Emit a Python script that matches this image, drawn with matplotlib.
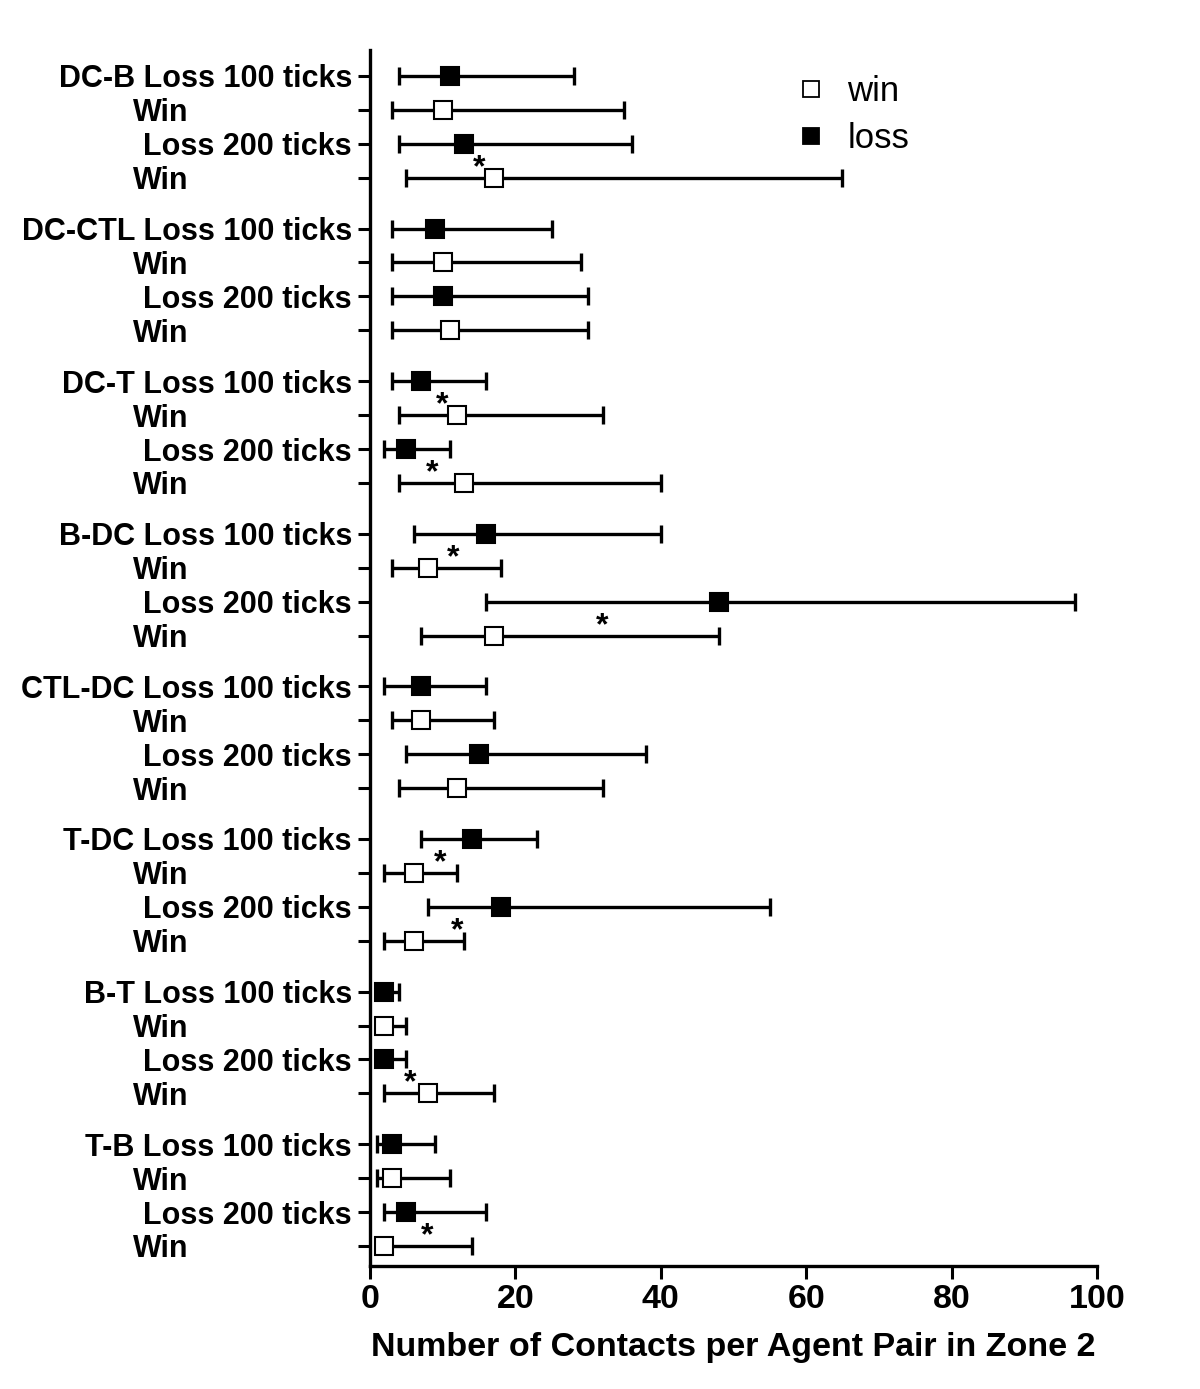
import matplotlib.pyplot as plt
from matplotlib.lines import Line2D
import matplotlib.transforms as mtransforms

plt.rcParams['font.family'] = ['Liberation Sans', 'DejaVu Sans']

groups = ["DC-B", "DC-CTL", "DC-T", "B-DC", "CTL-DC", "T-DC", "B-T", "T-B"]
row_names = ["Loss 100 ticks", "Win", "Loss 200 ticks", "Win"]
row_kind = ["loss", "win", "loss", "win"]

means = [[11, 10, 13, 17], [9, 10, 10, 11], [7, 12, 5, 13], [16, 8, 48, 17],
         [7, 7, 15, 12], [14, 6, 18, 6], [2, 2, 2, 8], [3, 3, 5, 2]]
lows = [[4, 3, 4, 5], [3, 3, 3, 3], [3, 4, 2, 4], [6, 3, 16, 7],
        [2, 3, 5, 4], [7, 2, 8, 2], [1, 1, 1, 2], [1, 1, 2, 1]]
highs = [[28, 35, 36, 65], [25, 29, 30, 30], [16, 32, 11, 40], [40, 18, 97, 48],
         [16, 17, 38, 32], [23, 12, 55, 13], [4, 5, 5, 17], [9, 11, 16, 14]]

# significance stars: (group, row above which star sits, x)
star_group = [0, 2, 2, 3, 3, 5, 5, 6, 7]
star_row = [3, 1, 3, 1, 3, 1, 3, 3, 3]
star_x = [15, 10, 8.5, 11.5, 32, 9.6, 12, 5.5, 7.8]

fig = plt.figure(figsize=(12, 13.89), dpi=100)
ax = fig.add_axes([0.3083, 0.0886, 0.6058, 0.8755])

gap = 4.5
ticks = []
labels = []
for g, name in enumerate(groups):
    for r in range(4):
        y = g * gap + r
        m = means[g][r]
        lo = lows[g][r]
        hi = highs[g][r]
        ax.errorbar([m], [y], xerr=[[m - lo], [hi - m]], fmt='none',
                    ecolor='black', elinewidth=2.4, capsize=6.5, capthick=2.4, zorder=2)
        if row_kind[r] == "loss":
            ax.plot(m, y, 's', ms=12.5, mfc='black', mec='black', mew=1.5, zorder=3)
        else:
            ax.plot(m, y, 's', ms=12.5, mfc='white', mec='black', mew=1.5, zorder=3)
        ticks.append(y)
        if r == 0:
            labels.append(name + " " + row_names[r])
        elif r == 2:
            labels.append(row_names[r])
        else:
            labels.append("")

trans = mtransforms.blended_transform_factory(ax.transAxes, ax.transData)
for g in range(len(groups)):
    for r in (1, 3):
        ax.text(-0.326, g * gap + r, "Win", transform=trans, ha='left',
                va='center_baseline', fontsize=22, fontweight='bold')

for g, r, x in zip(star_group, star_row, star_x):
    ax.text(x, g * gap + r - 0.05, "*", ha='center', va='baseline',
            fontsize=23, fontweight='bold')

ax.set_yticks(ticks)
ax.set_yticklabels(labels, fontsize=22, fontweight='bold')
ax.set_ylim(35.09, -0.77)
ax.set_xlim(0, 100)
ax.set_xticks([0, 20, 40, 60, 80, 100])
ax.set_xticklabels(["0", "20", "40", "60", "80", "100"], fontsize=24.5, fontweight='bold')
ax.set_xlabel("Number of Contacts per Agent Pair in Zone 2", fontsize=24.5,
              fontweight='bold', labelpad=12)

ax.spines['top'].set_visible(False)
ax.spines['right'].set_visible(False)
ax.spines['left'].set_linewidth(2.4)
ax.spines['bottom'].set_linewidth(2.4)
ax.tick_params(axis='both', width=2.2, length=9, pad=4)

handles = [Line2D([], [], ls='none', marker='s', ms=11, mfc='white', mec='black', mew=1.3),
           Line2D([], [], ls='none', marker='s', ms=11, mfc='black', mec='black', mew=1.3)]
ax.legend(handles, ["win", "loss"], loc='upper left', bbox_to_anchor=(0.516, 1.005),
          frameon=False, fontsize=25, handletextpad=0.05, labelspacing=0.4)

fig.savefig("out.png", dpi=100)
